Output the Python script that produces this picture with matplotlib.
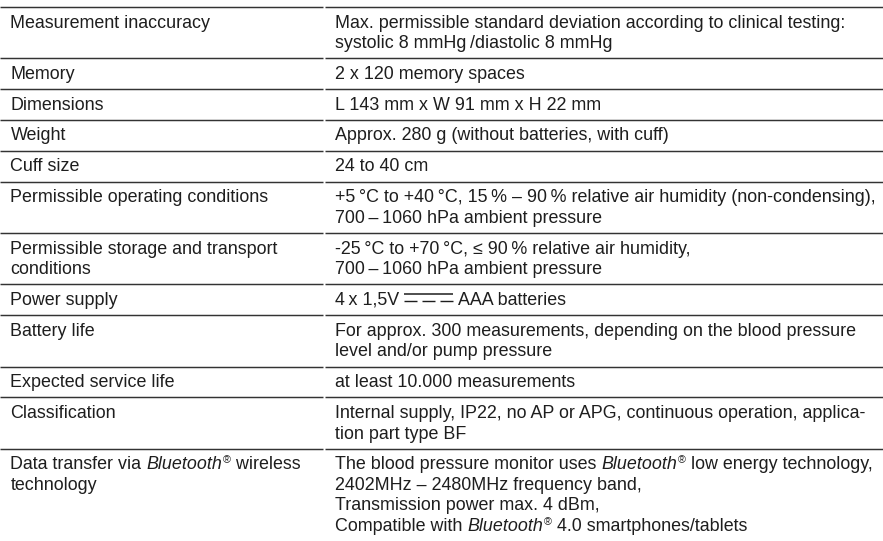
import re
import matplotlib
matplotlib.use("Agg")
import matplotlib.pyplot as plt

# ---- table content ----
parameters = [
    ["Measurement inaccuracy"],
    ["Memory"],
    ["Dimensions"],
    ["Weight"],
    ["Cuff size"],
    ["Permissible operating conditions"],
    ["Permissible storage and transport", "conditions"],
    ["Power supply"],
    ["Battery life"],
    ["Expected service life"],
    ["Classification"],
    ["Data transfer via *Bluetooth*® wireless", "technology"],
]
values = [
    ["Max. permissible standard deviation according to clinical testing:",
     "systolic 8 mmHg\u2009/diastolic 8 mmHg"],
    ["2 x 120 memory spaces"],
    ["L 143 mm x W 91 mm x H 22 mm"],
    ["Approx. 280 g (without batteries, with cuff)"],
    ["24 to 40 cm"],
    ["+5\u2009°C to +40\u2009°C, 15\u2009% \u2013 90\u2009% relative air humidity (non-condensing),",
     "700\u2009\u2013\u20091060 hPa ambient pressure"],
    ["-25\u2009°C to +70\u2009°C, \u2264 90\u2009% relative air humidity,",
     "700\u2009\u2013\u20091060 hPa ambient pressure"],
    ["4\u2009x 1,5V {DC} AAA batteries"],
    ["For approx. 300 measurements, depending on the blood pressure",
     "level and/or pump pressure"],
    ["at least 10.000 measurements"],
    ["Internal supply, IP22, no AP or APG, continuous operation, applica-",
     "tion part type BF"],
    ["The blood pressure monitor uses *Bluetooth*® low energy technology,",
     "2402MHz \u2013 2480MHz frequency band,",
     "Transmission power max. 4 dBm,",
     "Compatible with *Bluetooth*® 4.0 smartphones/tablets"],
]

W, H = 883, 541
FAMILY = "Liberation Sans"
TXT = "#1e1e1e"
LINE = "#333333"

fig = plt.figure(figsize=(W / 100, H / 100), dpi=100)
ax = fig.add_axes([0, 0, 1, 1])
ax.set_xlim(0, W)
ax.set_ylim(H, 0)
ax.axis("off")
renderer = fig.canvas.get_renderer()


def text_width(s, size, style="normal"):
    t1 = ax.text(0, 0, "|" + s + "|", fontsize=size, family=FAMILY, style=style)
    t2 = ax.text(0, 0, "||", fontsize=size, family=FAMILY, style=style)
    w = t1.get_window_extent(renderer).width - t2.get_window_extent(renderer).width
    t1.remove()
    t2.remove()
    return w


# font size fitted so long lines match the reference widths (no overflow)
targets = [(values[0][0], 525.0), (values[5][0], 541.0), (parameters[0][0], 202.0)]
FS = min(10 * tw / text_width(s, 10) for s, tw in targets)
PX = FS * 100 / 72.0


def draw_rich(x, y, s):
    tokens = re.split(r"(\*[^*]+\*|®|\{DC\})", s)
    for tok in tokens:
        if not tok:
            continue
        if tok.startswith("*") and tok.endswith("*"):
            body = tok[1:-1]
            ax.text(x, y, body, fontsize=FS, family=FAMILY, style="italic",
                    color=TXT, va="baseline", ha="left")
            x += text_width(body, FS, "italic")
        elif tok == "®":
            sz = FS * 0.6
            ax.text(x + 0.5, y - PX * 0.33, tok, fontsize=sz, family=FAMILY,
                    color=TXT, va="baseline", ha="left")
            x += text_width(tok, sz) + 0.5
        elif tok == "{DC}":
            x0 = x
            dash, gap = 13.0, 5.0
            total = 3 * dash + 2 * gap
            ax.plot([x0, x0 + total], [y - 10.5, y - 10.5], color=TXT,
                    lw=1.1, solid_capstyle="butt")
            for k in range(3):
                xs = x0 + k * (dash + gap)
                ax.plot([xs, xs + dash], [y - 3.5, y - 3.5], color=TXT,
                        lw=1.0, solid_capstyle="butt")
            x = x0 + total + 1
        else:
            ax.text(x, y, tok, fontsize=FS, family=FAMILY, color=TXT,
                    va="baseline", ha="left")
            x += text_width(tok, FS)


def rule(yy):
    yy = round(yy) + 0.5
    ax.plot([0, 322.5], [yy, yy], color=LINE, lw=1.05, solid_capstyle="butt")
    ax.plot([324.5, W], [yy, yy], color=LINE, lw=1.05, solid_capstyle="butt")


PAD = 10.2
LH = 20.6
X_LEFT = 10.5
X_RIGHT = 335
y = 6.0
rule(y)

for par, val in zip(parameters, values):
    n = max(len(par), len(val))
    base = y + 21.5
    for i, line in enumerate(par):
        draw_rich(X_LEFT, base + i * LH, line)
    for i, line in enumerate(val):
        draw_rich(X_RIGHT, base + i * LH, line)
    y += PAD + n * LH
    if y < H - 3:
        rule(y)

fig.savefig("out.png", dpi=100, facecolor="white")
